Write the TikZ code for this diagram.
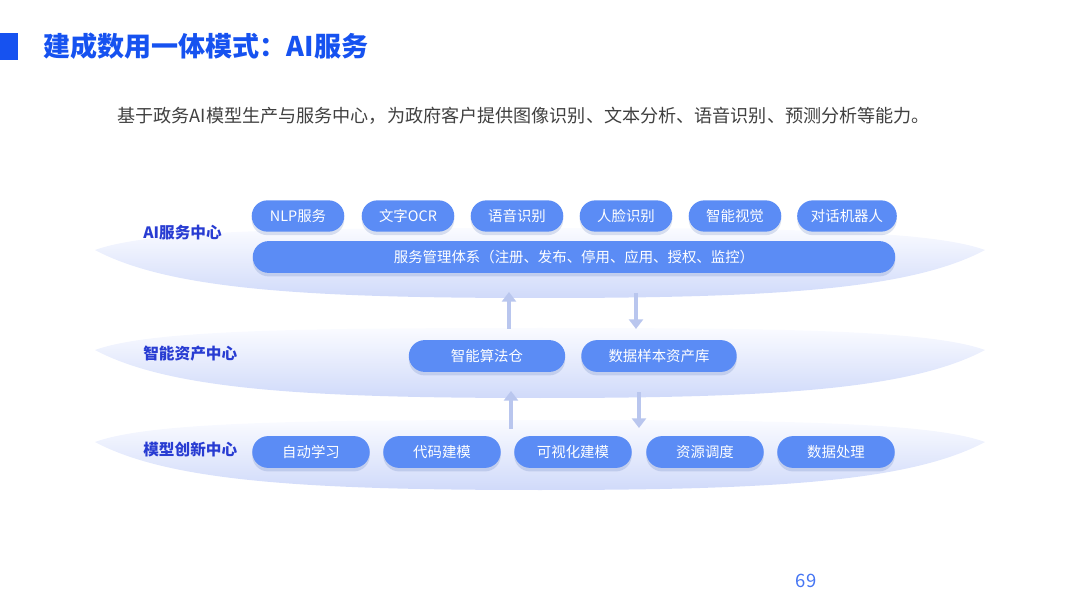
\documentclass[tikz,border=0pt]{standalone}
\usepackage{fontspec}
\setmainfont{Noto Sans CJK SC}
\usetikzlibrary{shapes.misc, arrows.meta, shadows}

\definecolor{titleblue}{RGB}{22,82,240}
\definecolor{pillblue}{RGB}{91,140,245}
\definecolor{labelblue}{RGB}{40,60,210}
\definecolor{arrowblue}{RGB}{185,198,238}
\definecolor{layertop}{RGB}{250,251,255}
\definecolor{layerbot}{RGB}{208,218,250}

\tikzset{
    pill/.style={rounded rectangle, fill=pillblue, text=white, font=\fontsize{8.2pt}{10pt}\selectfont,
        minimum height=17.8pt, inner sep=0pt,
        drop shadow={opacity=0.18, shadow xshift=0pt, shadow yshift=-2pt, fill=pillblue!70!black}},
    layerlabel/.style={anchor=west, text=labelblue, font=\fontsize{8.9pt}{10pt}\selectfont\bfseries, inner sep=0pt},
    flow/.style={draw=arrowblue, line width=2.8pt, -{Triangle[width=8pt, length=5.5pt]}}
}

% слой-диск: кончик слева на высоте #1
\newcommand{\layerdisk}[1]{%
    \shade[top color=layertop, bottom color=layerbot, shading angle=0]
        (95,#1) .. controls (150,#1-20) and (300,#1-22) .. (540,#1-22)
        .. controls (780,#1-22) and (930,#1-20) .. (985,#1)
        .. controls (910,#1+40) and (770,#1+48) .. (540,#1+48)
        .. controls (310,#1+48) and (170,#1+40) .. (95,#1) -- cycle;}

\begin{document}
\begin{tikzpicture}[x=0.02cm, y=-0.02cm]
        \useasboundingbox (0,0) rectangle (1080,608);

        % Заголовок
        \fill[titleblue] (0,33) rectangle (18,60);
        \node[anchor=west, inner sep=0pt, text=titleblue, font=\fontsize{15.4pt}{18pt}\selectfont\bfseries] (title) at (43,46) {建成数用一体模式：AI服务};
        \node[anchor=west, inner sep=0pt, text=black!75, font=\fontsize{10.3pt}{12pt}\selectfont] (sub) at (117,116) {基于政务AI模型生产与服务中心，为政府客户提供图像识别、文本分析、语音识别、预测分析等能力。};

        % Слои
        \layerdisk{250}
        \layerdisk{350}
        \layerdisk{442}

        \node[layerlabel] (L1) at (143,233) {AI服务中心};
        \node[layerlabel] (L2) at (143,354) {智能资产中心};
        \node[layerlabel] (L3) at (143,450) {模型创新中心};

        % AI服务中心
        \node[pill, minimum width=52.7pt] (A1) at (298,216) {NLP服务};
        \node[pill, minimum width=52.7pt] (A2) at (408,216) {文字OCR};
        \node[pill, minimum width=52.7pt] (A3) at (517,216) {语音识别};
        \node[pill, minimum width=52.7pt] (A4) at (626,216) {人脸识别};
        \node[pill, minimum width=52.7pt] (A5) at (735,216) {智能视觉};
        \node[pill, minimum width=56.7pt] (A6) at (847,216) {对话机器人};
        \node[pill, minimum width=365.7pt, minimum height=18.1pt] (A0) at (574,257) {服务管理体系（注册、发布、停用、应用、授权、监控）};

        % 智能资产中心
        \node[pill, minimum width=89pt, minimum height=18.1pt] (B1) at (487,356) {智能算法仓};
        \node[pill, minimum width=88.5pt, minimum height=18.1pt] (B2) at (659,356) {数据样本资产库};

        % 模型创新中心
        \node[pill, minimum width=66.9pt, minimum height=18.1pt] (C1) at (311,452) {自动学习};
        \node[pill, minimum width=66.9pt, minimum height=18.1pt] (C2) at (442,452) {代码建模};
        \node[pill, minimum width=66.9pt, minimum height=18.1pt] (C3) at (573,452) {可视化建模};
        \node[pill, minimum width=66.9pt, minimum height=18.1pt] (C4) at (705,452) {资源调度};
        \node[pill, minimum width=66.9pt, minimum height=18.1pt] (C5) at (836,452) {数据处理};

        % Стрелки между слоями
        \coordinate (U1s) at (509,329);
        \coordinate (U1e) at (509,292);
        \coordinate (D1s) at (636,293);
        \coordinate (D1e) at (636,329);
        \coordinate (U2s) at (511,429);
        \coordinate (U2e) at (511,391);
        \coordinate (D2s) at (639,392);
        \coordinate (D2e) at (639,428);
        \draw[flow] (U1s) -- (U1e);
        \draw[flow] (D1s) -- (D1e);
        \draw[flow] (U2s) -- (U2e);
        \draw[flow] (D2s) -- (D2e);

        % Номер страницы
        \node[inner sep=0pt, text=titleblue!80, font=\fontsize{10.5pt}{12pt}\selectfont] (page) at (806,581) {69};
    \end{tikzpicture}
\end{document}
